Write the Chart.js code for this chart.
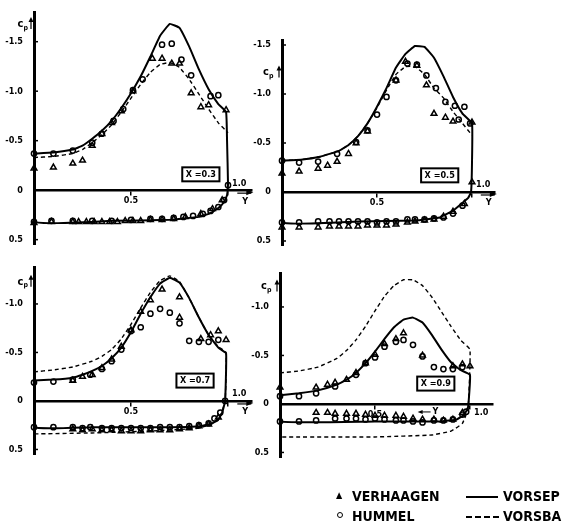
<!DOCTYPE html>
<html>
<head>
<meta charset="utf-8">
<script src="https://cdn.jsdelivr.net/npm/chart.js@4"></script>
<style>
  body { margin: 0; background: #fff; width: 565px; height: 530px; position: relative; overflow: hidden; }
  canvas { position: absolute; }
  .leg { position: absolute; font: bold 14px 'Liberation Sans Narrow', 'DejaVu Sans Condensed', sans-serif; color: #000; line-height: 1; }
</style>
</head>
<body>
<canvas id="p03" width="280" height="260" style="left:0;top:0"></canvas>
<canvas id="p05" width="315" height="260" style="left:250px;top:0"></canvas>
<canvas id="p07" width="280" height="215" style="left:0;top:255px"></canvas>
<canvas id="p09" width="315" height="215" style="left:250px;top:255px"></canvas>

<div class="leg" style="left:336px;top:491px;font-size:9px">&#9650;</div>
<div class="leg" style="left:352px;top:489px">VERHAAGEN</div>
<div class="leg" style="left:466px;top:496px;width:32px;border-top:2px solid #000"></div>
<div class="leg" style="left:503px;top:489px">VORSEP</div>
<div class="leg" style="left:337px;top:512px;width:4px;height:4px;border:1.5px solid #000;border-radius:50%"></div>
<div class="leg" style="left:352px;top:509px">HUMMEL</div>
<div class="leg" style="left:466px;top:516px;width:33px;border-top:2px dashed #000"></div>
<div class="leg" style="left:503px;top:509px">VORSBA</div>

<script>
// ---------- DATOS (Y = posición, Cp = coef. de presión) ----------
const xTicks = [0.5, 1.0];

// X = 0.3
const sepY_03  = [0, 0.1, 0.2, 0.25, 0.3, 0.35, 0.4, 0.45, 0.5, 0.55, 0.6, 0.65, 0.7, 0.75, 0.8, 0.85, 0.9, 0.95, 0.99, 0.995, 1.0, 0.995, 0.98, 0.95, 0.9, 0.85, 0.7, 0.4, 0, 0];
const sepCp_03 = [-0.37, -0.38, -0.41, -0.45, -0.52, -0.60, -0.70, -0.83, -0.98, -1.15, -1.35, -1.56, -1.68, -1.64, -1.45, -1.22, -1.02, -0.87, -0.79, -0.5, -0.06, 0.05, 0.12, 0.18, 0.24, 0.27, 0.30, 0.31, 0.32, -0.37];
const sbaY_03  = [0, 0.1, 0.2, 0.25, 0.3, 0.35, 0.4, 0.45, 0.5, 0.55, 0.6, 0.65, 0.7, 0.75, 0.8, 0.85, 0.9, 0.95, 1.0];
const sbaCp_03 = [-0.33, -0.34, -0.37, -0.41, -0.48, -0.56, -0.66, -0.79, -0.93, -1.07, -1.19, -1.27, -1.29, -1.24, -1.12, -0.97, -0.82, -0.68, -0.58];
const humY_03  = [0, 0.1, 0.2, 0.3, 0.35, 0.41, 0.46, 0.51, 0.56, 0.66, 0.71, 0.76, 0.81, 0.91, 0.95,
                  0, 0.09, 0.2, 0.3, 0.4, 0.5, 0.6, 0.66, 0.72, 0.77, 0.82, 0.87, 0.91, 0.95, 0.98, 1.0];
const humCp_03 = [-0.37, -0.37, -0.40, -0.48, -0.57, -0.70, -0.82, -1.01, -1.12, -1.47, -1.48, -1.32, -1.16, -0.95, -0.96,
                  0.32, 0.31, 0.31, 0.31, 0.31, 0.30, 0.29, 0.29, 0.28, 0.27, 0.26, 0.24, 0.21, 0.17, 0.10, -0.05];
const verY_03  = [0, 0.1, 0.2, 0.25, 0.3, 0.35, 0.4, 0.45, 0.51, 0.61, 0.66, 0.71, 0.75, 0.81, 0.86, 0.9, 0.99,
                  0, 0.09, 0.2, 0.23, 0.27, 0.31, 0.35, 0.39, 0.43, 0.47, 0.51, 0.55, 0.6, 0.66, 0.72, 0.78, 0.86, 0.92, 0.97];
const verCp_03 = [-0.22, -0.23, -0.27, -0.30, -0.45, -0.57, -0.68, -0.80, -1.00, -1.33, -1.33, -1.28, -1.28, -0.98, -0.84, -0.86, -0.81,
                  0.33, 0.32, 0.32, 0.32, 0.32, 0.32, 0.32, 0.32, 0.32, 0.31, 0.31, 0.31, 0.30, 0.30, 0.29, 0.27, 0.24, 0.19, 0.10];

// X = 0.5
const sepY_05  = [0, 0.1, 0.2, 0.3, 0.35, 0.4, 0.45, 0.5, 0.55, 0.6, 0.65, 0.7, 0.75, 0.8, 0.85, 0.9, 0.95, 1.0, 1.0, 0.995, 0.98, 0.95, 0.9, 0.83, 0.7, 0.4, 0, 0];
const sepCp_05 = [-0.32, -0.33, -0.36, -0.42, -0.48, -0.57, -0.70, -0.87, -1.06, -1.27, -1.41, -1.49, -1.48, -1.37, -1.18, -0.97, -0.80, -0.70, -0.3, 0.0, 0.06, 0.11, 0.19, 0.26, 0.29, 0.30, 0.31, -0.32];
const sbaY_05  = [0, 0.1, 0.2, 0.3, 0.35, 0.4, 0.45, 0.5, 0.55, 0.6, 0.65, 0.7, 0.75, 0.8, 0.85, 0.9, 0.95, 1.0];
const sbaCp_05 = [-0.32, -0.33, -0.36, -0.42, -0.48, -0.57, -0.70, -0.86, -1.04, -1.20, -1.28, -1.28, -1.20, -1.06, -0.96, -0.82, -0.70, -0.58];
const humY_05  = [0, 0.09, 0.19, 0.29, 0.39, 0.45, 0.5, 0.55, 0.6, 0.66, 0.71, 0.76, 0.81, 0.86, 0.91, 0.96, 0.93, 0.99,
                  0, 0.09, 0.19, 0.25, 0.3, 0.35, 0.4, 0.45, 0.5, 0.55, 0.6, 0.66, 0.7, 0.75, 0.8, 0.85, 0.9, 0.95];
const humCp_05 = [-0.32, -0.30, -0.31, -0.39, -0.51, -0.63, -0.79, -0.97, -1.14, -1.31, -1.30, -1.19, -1.06, -0.92, -0.88, -0.87, -0.74, -0.70,
                  0.31, 0.31, 0.30, 0.30, 0.30, 0.30, 0.30, 0.30, 0.31, 0.30, 0.30, 0.28, 0.28, 0.28, 0.27, 0.26, 0.22, 0.14];
const verY_05  = [0, 0.09, 0.19, 0.24, 0.29, 0.35, 0.39, 0.45, 0.6, 0.65, 0.71, 0.76, 0.8, 0.86, 0.9, 1.0,
                  0, 0.09, 0.19, 0.25, 0.3, 0.35, 0.4, 0.45, 0.5, 0.55, 0.6, 0.66, 0.7, 0.75, 0.8, 0.85, 0.9, 0.96, 1.0];
const verCp_05 = [-0.19, -0.21, -0.24, -0.27, -0.31, -0.39, -0.50, -0.62, -1.14, -1.33, -1.29, -1.09, -0.80, -0.76, -0.72, -0.71,
                  0.36, 0.36, 0.36, 0.35, 0.35, 0.35, 0.35, 0.34, 0.34, 0.34, 0.33, 0.31, 0.30, 0.29, 0.28, 0.25, 0.20, 0.12, -0.10];

// X = 0.7
const sepY_07  = [0, 0.1, 0.2, 0.25, 0.3, 0.35, 0.4, 0.45, 0.5, 0.55, 0.6, 0.65, 0.7, 0.75, 0.8, 0.85, 0.9, 0.95, 0.99, 0.985, 0.97, 0.95, 0.92, 0.86, 0.7, 0.3, 0, 0];
const sepCp_07 = [-0.21, -0.22, -0.24, -0.27, -0.31, -0.36, -0.44, -0.55, -0.71, -0.90, -1.07, -1.21, -1.27, -1.22, -1.06, -0.86, -0.68, -0.55, -0.49, 0.0, 0.12, 0.19, 0.23, 0.26, 0.27, 0.27, 0.27, -0.21];
const sbaY_07  = [0, 0.1, 0.2, 0.3, 0.35, 0.4, 0.45, 0.5, 0.55, 0.6, 0.65, 0.7, 0.75, 0.8, 0.85, 0.9, 0.95, 0.99, 0.985, 0.95, 0.85, 0.6, 0.3, 0];
const sbaCp_07 = [-0.30, -0.32, -0.35, -0.41, -0.46, -0.53, -0.64, -0.79, -0.96, -1.12, -1.24, -1.29, -1.23, -1.06, -0.86, -0.68, -0.56, -0.50, 0.0, 0.20, 0.28, 0.31, 0.33, 0.34];
const humY_07  = [0, 0.1, 0.2, 0.29, 0.35, 0.4, 0.45, 0.5, 0.55, 0.6, 0.65, 0.7, 0.75, 0.8, 0.85, 0.9, 0.95,
                  0, 0.1, 0.2, 0.25, 0.29, 0.35, 0.4, 0.45, 0.5, 0.55, 0.6, 0.65, 0.7, 0.75, 0.8, 0.85, 0.9, 0.93, 0.96, 0.985];
const humCp_07 = [-0.19, -0.20, -0.22, -0.27, -0.33, -0.41, -0.53, -0.72, -0.76, -0.90, -0.95, -0.91, -0.80, -0.62, -0.61, -0.61, -0.63,
                  0.27, 0.27, 0.27, 0.28, 0.27, 0.28, 0.28, 0.28, 0.28, 0.28, 0.28, 0.27, 0.27, 0.27, 0.26, 0.25, 0.23, 0.18, 0.12, 0.0];
const verY_07  = [0.2, 0.25, 0.3, 0.35, 0.4, 0.45, 0.5, 0.55, 0.6, 0.66, 0.75, 0.75, 0.86, 0.91, 0.95, 0.99,
                  0.2, 0.25, 0.3, 0.35, 0.4, 0.45, 0.5, 0.55, 0.6, 0.65, 0.7, 0.75, 0.8, 0.85, 0.9, 0.95];
const verCp_07 = [-0.21, -0.25, -0.27, -0.34, -0.43, -0.56, -0.73, -0.92, -1.04, -1.15, -1.07, -0.86, -0.64, -0.68, -0.72, -0.63,
                  0.29, 0.30, 0.29, 0.30, 0.30, 0.31, 0.31, 0.31, 0.30, 0.30, 0.30, 0.29, 0.28, 0.26, 0.24, 0.17];

// X = 0.9
const sepY_09  = [0, 0.1, 0.2, 0.3, 0.35, 0.4, 0.45, 0.5, 0.55, 0.6, 0.65, 0.7, 0.75, 0.8, 0.85, 0.9, 0.95, 1.0, 0.99, 0.97, 0.93, 0.85, 0.5, 0, 0];
const sepCp_09 = [-0.09, -0.11, -0.14, -0.20, -0.25, -0.32, -0.42, -0.54, -0.67, -0.79, -0.87, -0.89, -0.84, -0.71, -0.56, -0.43, -0.35, -0.30, 0.03, 0.11, 0.16, 0.18, 0.18, 0.18, -0.09];
const sbaY_09  = [0, 0.1, 0.2, 0.3, 0.35, 0.4, 0.45, 0.5, 0.55, 0.6, 0.65, 0.7, 0.75, 0.8, 0.85, 0.9, 0.95, 1.0, 0.99, 0.96, 0.9, 0.8, 0.5, 0];
const sbaCp_09 = [-0.32, -0.34, -0.38, -0.47, -0.55, -0.66, -0.80, -0.96, -1.11, -1.22, -1.28, -1.28, -1.22, -1.10, -0.95, -0.80, -0.66, -0.56, 0.05, 0.20, 0.28, 0.32, 0.34, 0.34];
const humY_09  = [0, 0.1, 0.19, 0.29, 0.4, 0.45, 0.5, 0.55, 0.61, 0.65, 0.7, 0.75, 0.81, 0.86, 0.91, 0.96,
                  0, 0.1, 0.19, 0.29, 0.35, 0.4, 0.45, 0.5, 0.55, 0.61, 0.65, 0.7, 0.75, 0.81, 0.86, 0.91, 0.96, 0.98];
const humCp_09 = [-0.08, -0.08, -0.11, -0.18, -0.30, -0.42, -0.48, -0.59, -0.64, -0.66, -0.61, -0.49, -0.38, -0.36, -0.36, -0.38,
                  0.18, 0.18, 0.17, 0.15, 0.15, 0.15, 0.16, 0.15, 0.16, 0.17, 0.17, 0.18, 0.19, 0.17, 0.17, 0.16, 0.11, 0.08];
const verY_09  = [0, 0.19, 0.25, 0.29, 0.35, 0.4, 0.45, 0.5, 0.55, 0.61, 0.65, 0.75, 0.91, 0.96, 1.0,
                  0.19, 0.25, 0.29, 0.35, 0.4, 0.45, 0.5, 0.55, 0.61, 0.65, 0.7, 0.75, 0.81, 0.86, 0.91, 0.96];
const verCp_09 = [-0.17, -0.17, -0.20, -0.22, -0.25, -0.32, -0.42, -0.51, -0.62, -0.67, -0.73, -0.50, -0.39, -0.41, -0.39,
                  0.09, 0.09, 0.10, 0.10, 0.10, 0.11, 0.12, 0.12, 0.12, 0.13, 0.15, 0.16, 0.16, 0.17, 0.16, 0.09];

// ---------- DIBUJO ----------
const FONT = "'Liberation Sans Narrow', 'DejaVu Sans Condensed', sans-serif";
const pts = (xs, ys) => xs.map((x, i) => ({ x, y: ys[i] }));

const extras = {
  id: "extras",
  afterDraw(chart, args, o) {
    const ctx = chart.ctx, sx = chart.scales.x, sy = chart.scales.y;
    const px = v => sx.getPixelForValue(v), py = v => sy.getPixelForValue(v);
    const ax = px(0), y0 = py(0);
    ctx.save();
    ctx.fillStyle = "#000"; ctx.strokeStyle = "#000"; ctx.textBaseline = "middle";

    // marcas del eje Cp
    ctx.lineWidth = 1.5;
    sy.ticks.forEach(t => { const y = py(t.value); ctx.beginPath(); ctx.moveTo(ax, y); ctx.lineTo(ax + 4, y); ctx.stroke(); });

    // etiqueta c_p con flecha
    const lx = px(o.cpAt[0]), ly = py(o.cpAt[1]);
    ctx.textAlign = "left";
    ctx.font = "bold 11px " + FONT; ctx.fillText("c", lx, ly);
    ctx.font = "bold 7px " + FONT;  ctx.fillText("p", lx + 6, ly + 4);
    ctx.lineWidth = 1.2;
    ctx.beginPath(); ctx.moveTo(ax - 3, ly + 5); ctx.lineTo(ax - 3, ly - 5); ctx.stroke();
    ctx.beginPath(); ctx.moveTo(ax - 3, ly - 7); ctx.lineTo(ax - 5.5, ly - 2); ctx.lineTo(ax - 0.5, ly - 2); ctx.fill();

    // recuadro X = ...
    ctx.font = "bold 9px " + FONT;
    const bx = px(o.box[0]), by = py(o.box[1]);
    const w = ctx.measureText(o.boxText).width + 7;
    ctx.lineWidth = 2; ctx.strokeRect(bx - w / 2, by - 7, w, 14);
    ctx.textAlign = "center"; ctx.fillText(o.boxText, bx, by + 0.5);

    // 1.0 y flecha Y
    ctx.font = "bold 9px " + FONT; ctx.textAlign = "left";
    const x1 = px(1.0), xe = sx.right;
    if (o.leftArrow) {
      ctx.fillText("1.0", x1 + 4, y0 + 9);
      const xa = px(0.74);
      ctx.lineWidth = 1;
      ctx.beginPath(); ctx.moveTo(xa, y0 + 8); ctx.lineTo(xa + 10, y0 + 8); ctx.stroke();
      ctx.beginPath(); ctx.moveTo(xa - 3, y0 + 8); ctx.lineTo(xa + 2, y0 + 6); ctx.lineTo(xa + 2, y0 + 10); ctx.fill();
      ctx.fillText("Y", xa + 12, y0 + 8);
    } else {
      ctx.fillText("1.0", x1 + 4, y0 - 7);
      ctx.beginPath(); ctx.moveTo(xe + 2, y0 + 2); ctx.lineTo(xe - 5, y0 - 1); ctx.lineTo(xe - 5, y0 + 5); ctx.fill();
      ctx.lineWidth = 1.2;
      ctx.beginPath(); ctx.moveTo(xe - 14, y0 + 3); ctx.lineTo(xe, y0 + 3); ctx.stroke();
      ctx.textAlign = "center"; ctx.fillText("Y", xe - 6, y0 + 11);
    }
    ctx.restore();
  }
};

function crearPanel(id, p) {
  new Chart(document.getElementById(id), {
    type: "scatter",
    data: {
      datasets: [
        { label: "VORSEP", data: pts(p.sepY, p.sepCp), showLine: true, borderColor: "#000", borderWidth: 2, pointRadius: 0, tension: 0.1, clip: false },
        { label: "VORSBA", data: pts(p.sbaY, p.sbaCp), showLine: true, borderColor: "#000", borderWidth: 1.4, borderDash: [4, 3], pointRadius: 0, tension: 0.1, clip: false },
        { label: "VERHAAGEN", data: pts(p.verY, p.verCp), pointStyle: "triangle", pointRadius: 3.3, borderColor: "#000", borderWidth: 1.5, backgroundColor: "rgba(0,0,0,0)", clip: false },
        { label: "HUMMEL", data: pts(p.humY, p.humCp), pointStyle: "circle", pointRadius: 2.6, borderColor: "#000", borderWidth: 1.5, backgroundColor: "rgba(0,0,0,0)", clip: false }
      ]
    },
    options: {
      responsive: false,
      animation: false,
      events: [],
      layout: { padding: p.pad, autoPadding: false },
      plugins: { legend: { display: false }, tooltip: { enabled: false }, extras: p.extras },
      scales: {
        x: {
          type: "linear", position: { y: 0 }, min: 0, max: 1.12,
          afterBuildTicks: s => { s.ticks = xTicks.map(v => ({ value: v })); },
          grid: { display: true, drawOnChartArea: false, tickLength: 4, color: "#000", lineWidth: 1.5 },
          border: { display: true, color: "#000", width: 2.5 },
          ticks: { callback: v => (v === 0.5 ? "0.5" : ""), font: { family: FONT, size: 9, weight: "bold" }, color: "#000", padding: 1, maxRotation: 0, autoSkip: false }
        },
        y: {
          type: "linear", reverse: true, min: p.yMin, max: 0.55,
          afterFit: s => { s.width = p.axisW; },
          afterBuildTicks: s => { s.ticks = p.yTicks.map(v => ({ value: v })); },
          grid: { display: false },
          border: { display: true, color: "#000", width: 3 },
          ticks: { callback: v => (v === 0 ? "0" : v.toFixed(1)), font: { family: FONT, size: 9, weight: "bold" }, color: "#000", padding: 3 }
        }
      }
    },
    plugins: [extras]
  });
}

crearPanel("p03", {
  sepY: sepY_03, sepCp: sepCp_03, sbaY: sbaY_03, sbaCp: sbaCp_03, humY: humY_03, humCp: humCp_03, verY: verY_03, verCp: verCp_03,
  yMin: -1.8, yTicks: [-1.5, -1.0, -0.5, 0, 0.5], axisW: 34,
  pad: { left: 0, top: 12, right: 28.7, bottom: 15.4 },
  extras: { cpAt: [-0.085, -1.68], box: [0.86, -0.16], boxText: "X =0.3" }
});
crearPanel("p05", {
  sepY: sepY_05, sepCp: sepCp_05, sbaY: sbaY_05, sbaCp: sbaCp_05, humY: humY_05, humCp: humCp_05, verY: verY_05, verCp: verCp_05,
  yMin: -1.55, yTicks: [-1.5, -1.0, -0.5, 0, 0.5], axisW: 32,
  pad: { left: 0, top: 40.1, right: 70.2, bottom: 14.1 },
  extras: { cpAt: [-0.1, -1.22], box: [0.83, -0.17], boxText: "X =0.5" }
});
crearPanel("p07", {
  sepY: sepY_07, sepCp: sepCp_07, sbaY: sbaY_07, sbaCp: sbaCp_07, humY: humY_07, humCp: humCp_07, verY: verY_07, verCp: verCp_07,
  yMin: -1.38, yTicks: [-1.0, -0.5, 0, 0.5], axisW: 34,
  pad: { left: 0, top: 12.1, right: 28.7, bottom: 15.7 },
  extras: { cpAt: [-0.085, -1.23], box: [0.83, -0.21], boxText: "X =0.7" }
});
crearPanel("p09", {
  sepY: sepY_09, sepCp: sepCp_09, sbaY: sbaY_09, sbaCp: sbaCp_09, humY: humY_09, humCp: humCp_09, verY: verY_09, verCp: verCp_09,
  yMin: -1.35, yTicks: [-1.0, -0.5, 0, 0.5], axisW: 30,
  pad: { left: 0, top: 18, right: 72.2, bottom: 12.7 },
  extras: { cpAt: [-0.1, -1.21], box: [0.82, -0.21], boxText: "X =0.9", leftArrow: true }
});
</script>
</body>
</html>
